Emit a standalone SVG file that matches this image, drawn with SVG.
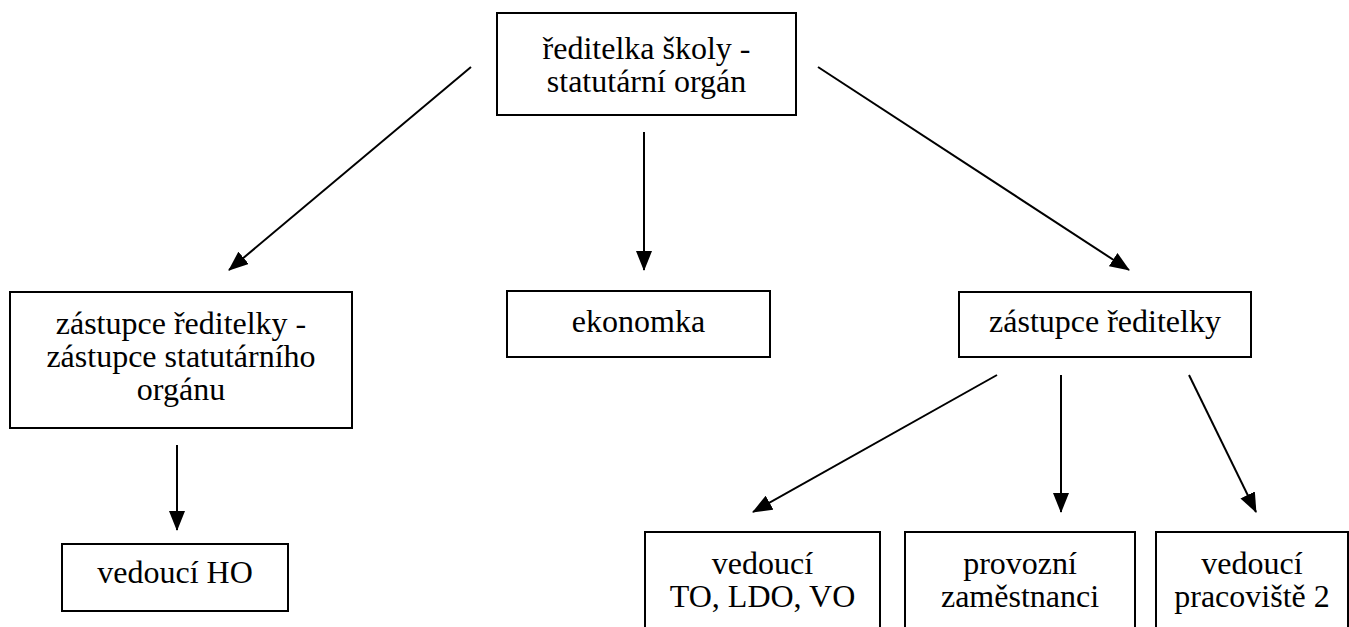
<svg xmlns="http://www.w3.org/2000/svg" width="1349" height="627" viewBox="0 0 1349 627">
<style>
.box{fill:#fff;stroke:#000;stroke-width:2}
.t{font-family:"Liberation Serif","Times New Roman","DejaVu Serif",serif;font-size:32px;fill:#000;text-anchor:middle}
.c{stroke:#000;stroke-width:2;fill:none;marker-end:url(#ah)}
</style>
<defs>
<marker id="ah" viewBox="0 0 20 16" refX="19" refY="8" markerWidth="20" markerHeight="16" markerUnits="userSpaceOnUse" orient="auto">
<path d="M0,0 L20,8 L0,16 z" fill="#000"/>
</marker>
</defs>
<rect width="1349" height="627" fill="#fff"/>
<g id="connectors">
<line class="c" x1="471" y1="67" x2="229" y2="270"/>
<line class="c" x1="644" y1="132" x2="644" y2="270"/>
<line class="c" x1="818" y1="67" x2="1129" y2="270"/>
<line class="c" x1="177" y1="445" x2="177" y2="530"/>
<line class="c" x1="997" y1="375" x2="753" y2="512"/>
<line class="c" x1="1061" y1="375" x2="1061" y2="512"/>
<line class="c" x1="1189" y1="375" x2="1256" y2="512"/>
</g>
<g id="reditelka">
<rect class="box" x="497" y="13" width="299" height="102"/>
<text class="t"><tspan x="646.5" y="59">ředitelka školy -</tspan><tspan x="646.5" y="92">statutární orgán</tspan></text>
</g>
<g id="zastupce-statutarni">
<rect class="box" x="10" y="292" width="342" height="136"/>
<text class="t"><tspan x="181" y="334">zástupce ředitelky -</tspan><tspan x="181" y="367">zástupce statutárního</tspan><tspan x="181" y="400">orgánu</tspan></text>
</g>
<g id="ekonomka">
<rect class="box" x="507" y="291" width="263" height="66"/>
<text class="t" x="638.5" y="332">ekonomka</text>
</g>
<g id="zastupce">
<rect class="box" x="959" y="292" width="292" height="65"/>
<text class="t" x="1105" y="332">zástupce ředitelky</text>
</g>
<g id="vedouci-ho">
<rect class="box" x="62" y="544" width="226" height="67"/>
<text class="t" x="175" y="583">vedoucí HO</text>
</g>
<g id="vedouci-to">
<rect class="box" x="645" y="532" width="235" height="110"/>
<text class="t"><tspan x="762.5" y="574">vedoucí</tspan><tspan x="762.5" y="607">TO, LDO, VO</tspan></text>
</g>
<g id="provozni">
<rect class="box" x="905" y="532" width="230" height="110"/>
<text class="t"><tspan x="1020" y="574">provozní</tspan><tspan x="1020" y="607">zaměstnanci</tspan></text>
</g>
<g id="vedouci-pracoviste">
<rect class="box" x="1156" y="532" width="192" height="110"/>
<text class="t"><tspan x="1252" y="574">vedoucí</tspan><tspan x="1252" y="607">pracoviště 2</tspan></text>
</g>
</svg>
